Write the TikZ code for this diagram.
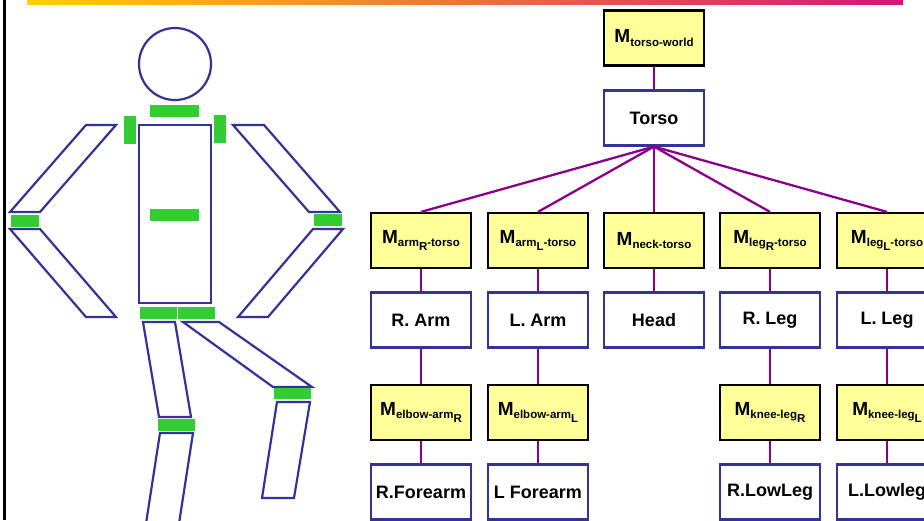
\documentclass[tikz,border=0pt]{standalone}
\usepackage{fontspec}
\setmainfont{Liberation Sans}
\definecolor{myyellow}{RGB}{255,255,153}
\definecolor{partblue}{RGB}{51,51,153}
\definecolor{linkpurple}{RGB}{139,0,139}
\definecolor{jointgreen}{RGB}{51,204,51}
\definecolor{barstart}{RGB}{255,210,0}
\definecolor{barend}{RGB}{212,20,122}
% transform label: big M with a lowered subscript
\newcommand{\Mlab}[1]{{\fontsize{19}{19}\selectfont M}{\fontsize{11.5}{11.5}\selectfont\raisebox{-0.5ex}{#1}}}
\newcommand{\lowr}[1]{\raisebox{-0.6ex}{#1}}
\begin{document}
\begin{tikzpicture}[x=1pt,y=-1pt,
  every node/.style={font=\bfseries\fontsize{18}{21}\selectfont},
  mbox/.style={draw=black, line width=2.2pt, fill=myyellow, minimum width=100pt, minimum height=55pt, inner sep=0pt},
  partbox/.style={draw=partblue, line width=2.2pt, fill=white, minimum width=100pt, minimum height=55pt, inner sep=0pt},
  link/.style={draw=linkpurple, line width=2.3pt},
  limb/.style={draw=partblue, line width=2.2pt, line join=miter},
  joint/.style={fill=jointgreen, draw=none}]
\useasboundingbox (0,0) rectangle (924,520);
\clip (0,0) rectangle (924,520);
\fill[white] (0,0) rectangle (924,520);

% frame: left rule and top gradient bar
\draw[black, line width=2.5pt] (4.7,0) -- (4.7,520);
\shade[left color=barstart, right color=barend] (27,0) rectangle (903,4);

% ---- stick figure ----
\draw[limb] (175,64) circle (36);
\draw[limb] (139,125) rectangle (211,303);
% arms
\draw[limb] (86,125) -- (116,125) -- (40,212) -- (10,212) -- cycle;
\draw[limb] (10,229) -- (40,229) -- (116,317) -- (86,317) -- cycle;
\draw[limb] (233,125) -- (264,125) -- (340,212) -- (309,212) -- cycle;
\draw[limb] (313,229) -- (343,229) -- (268,317) -- (238,317) -- cycle;
% legs
\draw[limb] (143,322) -- (175,322) -- (191,417) -- (159,417) -- cycle;
\draw[limb] (160,433) -- (193,433) -- (178,530) -- (145,530) -- cycle;
\draw[limb] (183,322) -- (219,322) -- (312,387) -- (273,387) -- cycle;
\draw[limb] (277,402) -- (310,402) -- (294,498) -- (262,498) -- cycle;
% joints
\fill[joint] (150,105) rectangle (199,117);
\fill[joint] (124,116) rectangle (136,144);
\fill[joint] (214,115) rectangle (226,143);
\fill[joint] (150,209) rectangle (199,221);
\fill[joint] (11,215) rectangle (39,227);
\fill[joint] (314,214) rectangle (342,226);
\fill[joint] (140,307) rectangle (177,319);
\fill[joint] (178,307) rectangle (215,319);
\fill[joint] (158,419) rectangle (195,431);
\fill[joint] (274,388) rectangle (311,399);

% ---- scene graph ----
\node[mbox]    (mtw)  at (654,38)    {\Mlab{torso-world}};
\node[partbox] (torso) at (654,118)  {Torso};

\node[mbox] (mar) at (421,240.5) {\Mlab{arm\lowr{R}-torso}};
\node[mbox] (mal) at (538,240.5) {\Mlab{arm\lowr{L}-torso}};
\node[mbox] (mnk) at (654,240.5) {\Mlab{neck-torso}};
\node[mbox] (mlr) at (770,240.5) {\Mlab{leg\lowr{R}-torso}};
\node[mbox] (mll) at (887,240.5) {\Mlab{leg\lowr{L}-torso}};

\node[partbox] (rarm) at (421,320) {R. Arm};
\node[partbox] (larm) at (538,320) {L. Arm};
\node[partbox] (head) at (654,320) {Head};
\node[partbox] (rleg) at (770,320) {R. Leg};
\node[partbox] (lleg) at (887,320) {L. Leg};

\node[mbox] (mer) at (421,412.5) {\Mlab{elbow-arm\lowr{R}}};
\node[mbox] (mel) at (538,412.5) {\Mlab{elbow-arm\lowr{L}}};
\node[mbox] (mkr) at (770,412.5) {\Mlab{knee-leg\lowr{R}}};
\node[mbox] (mkl) at (887,412.5) {\Mlab{knee-leg\lowr{L}}};

\node[partbox] (rfa) at (421,492) {R.Forearm};
\node[partbox] (lfa) at (538,492) {L Forearm};
\node[partbox] (rll) at (770,492) {R.LowLeg};
\node[partbox] (lll) at (887,492) {L.Lowleg};

% connectors
\draw[link] (mtw) -- (torso);
\foreach \m in {mar,mal,mnk,mlr,mll}
  \draw[link] (torso.south) -- (\m.north);
\draw[link] (mar) -- (rarm);
\draw[link] (mal) -- (larm);
\draw[link] (mnk) -- (head);
\draw[link] (mlr) -- (rleg);
\draw[link] (mll) -- (lleg);
\draw[link] (rarm) -- (mer);
\draw[link] (larm) -- (mel);
\draw[link] (rleg) -- (mkr);
\draw[link] (lleg) -- (mkl);
\draw[link] (mer) -- (rfa);
\draw[link] (mel) -- (lfa);
\draw[link] (mkr) -- (rll);
\draw[link] (mkl) -- (lll);
\end{tikzpicture}
\end{document}
